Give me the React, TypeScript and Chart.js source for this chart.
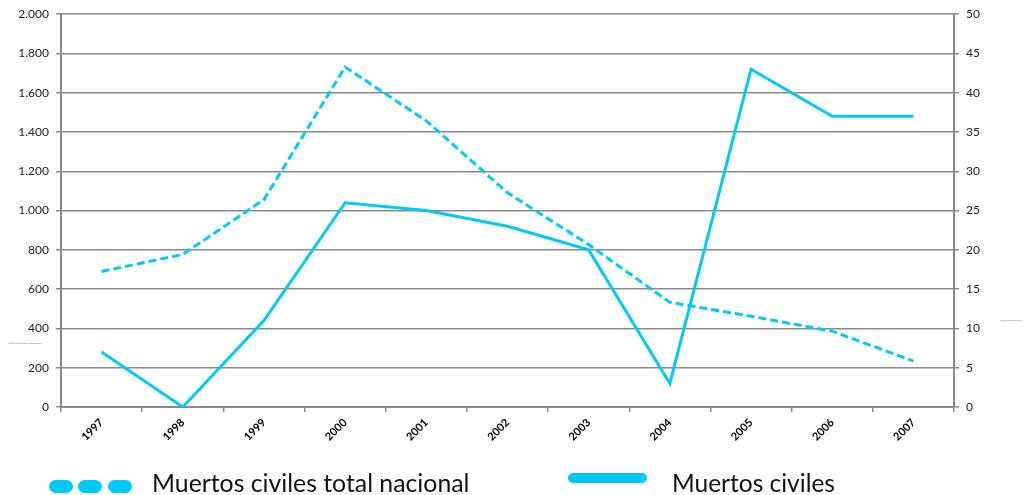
import React, { useEffect, useRef } from 'react';
import { Chart, registerables } from 'chart.js';

Chart.register(...registerables);

const years = ['1997', '1998', '1999', '2000', '2001', '2002', '2003', '2004', '2005', '2006', '2007'];
const nationalDeaths = [690, 777, 1056, 1731, 1457, 1091, 827, 533, 462, 386, 234];
const localDeaths = [7, 0, 11, 26, 25, 23, 20, 3, 43, 37, 37];
const nationalLabel = 'Muertos civiles total nacional';
const localLabel = 'Muertos civiles';

const CYAN = '#00c9f7';
const GRID = '#8a8a8a';

const fmt = (v: number) => String(Math.round(v)).replace(/\B(?=(\d{3})+(?!\d))/g, '.');

export default function App() {
  const ref = useRef<HTMLCanvasElement | null>(null);

  useEffect(() => {
    if (!ref.current) return;
    const tinyTitles = {
      id: 'tinyTitles',
      afterDraw(chart: any) {
        const ctx = chart.ctx;
        ctx.save();
        ctx.fillStyle = '#777';
        ctx.font = '2px Lato';
        ctx.textBaseline = 'middle';
        ctx.fillText(nationalLabel + ' nacional', 8, 343);
        ctx.fillText(localLabel + ' municipio', 1000, 320);
        ctx.restore();
      },
    };
    const chart = new Chart(ref.current, {
      type: 'line',
      data: {
        labels: years,
        datasets: [
          {
            label: nationalLabel,
            data: nationalDeaths,
            yAxisID: 'y',
            borderColor: CYAN,
            backgroundColor: CYAN,
            borderWidth: 3,
            borderDash: [8, 4],
            pointRadius: 0,
            tension: 0,
          },
          {
            label: localLabel,
            data: localDeaths,
            yAxisID: 'y1',
            borderColor: CYAN,
            backgroundColor: CYAN,
            borderWidth: 3,
            pointRadius: 0,
            tension: 0,
          },
        ],
      },
      options: {
        responsive: false,
        animation: false,
        layout: { padding: { top: 13, left: 0, right: 0, bottom: 0 } },
        plugins: { legend: { display: false }, tooltip: { enabled: false } },
        scales: {
          x: {
            offset: true,
            grid: { offset: true, drawOnChartArea: false, drawTicks: true, tickLength: 5, color: GRID, lineWidth: 1.5 },
            border: { color: GRID, width: 2 },
            ticks: {
              color: '#000',
              font: { family: 'Lato', size: 11, weight: 'bold' },
              maxRotation: 45,
              minRotation: 45,
              padding: 4,
              autoSkip: false,
            },
            afterFit: (a: any) => { a.height = 88; },
          },
          y: {
            position: 'left',
            min: 0,
            max: 2000,
            grid: { color: GRID, lineWidth: 1.5, tickLength: 5, drawTicks: true },
            border: { color: GRID, width: 2 },
            ticks: {
              stepSize: 200,
              color: '#222',
              font: { family: 'Lato', size: 12 },
              padding: 7,
              callback: (v: any) => fmt(Number(v)),
            },
            afterFit: (a: any) => { a.width = 61; },
          },
          y1: {
            position: 'right',
            min: 0,
            max: 50,
            grid: { drawOnChartArea: false, color: GRID, lineWidth: 1.5, tickLength: 5, drawTicks: true },
            border: { color: GRID, width: 2 },
            ticks: {
              stepSize: 5,
              color: '#222',
              font: { family: 'Lato', size: 12 },
              padding: 7,
            },
            afterFit: (a: any) => { a.width = 79; },
          },
        },
      },
      plugins: [tinyTitles],
    });
    return () => chart.destroy();
  }, []);

  const pill = (left: number) => (
    <div key={left} style={{ position: 'absolute', left, top: 480, width: 24, height: 13, borderRadius: 7, background: CYAN }} />
  );

  return (
    <div style={{ position: 'fixed', left: 0, top: 0, width: 1033, height: 495, background: '#fff', overflow: 'hidden' }}>
      <canvas ref={ref} width={1033} height={495} style={{ display: 'block', width: 1033, height: 495 }} />
      {pill(49)}
      {pill(78)}
      {pill(108)}
      <div style={{ position: 'absolute', left: 152, top: 471, fontFamily: 'Lato', fontSize: 24.8, lineHeight: '24px', color: '#111', whiteSpace: 'nowrap' }}>
        {nationalLabel}
      </div>
      <div style={{ position: 'absolute', left: 568, top: 473, width: 79, height: 10, borderRadius: 5, background: CYAN }} />
      <div style={{ position: 'absolute', left: 672, top: 471, fontFamily: 'Lato', fontSize: 24.5, lineHeight: '24px', color: '#111', whiteSpace: 'nowrap' }}>
        {localLabel}
      </div>
    </div>
  );
}
